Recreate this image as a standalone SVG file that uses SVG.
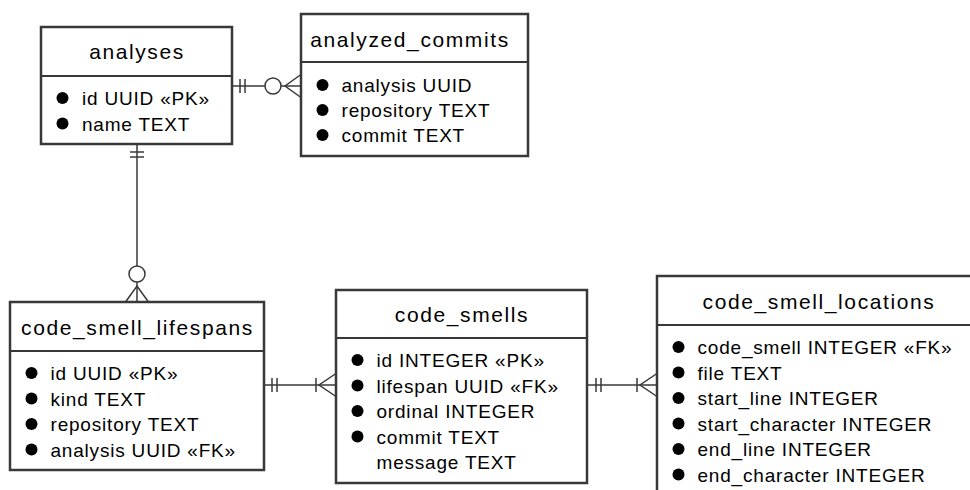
<svg xmlns="http://www.w3.org/2000/svg" width="970" height="490" viewBox="0 0 970 490">
  <style>
    .box { fill: #ffffff; stroke: #383838; stroke-width: 2.5; }
    .div { stroke: #383838; stroke-width: 2.2; }
    .title { font-family: "Liberation Sans", Arial, sans-serif; font-size: 21px; letter-spacing: 1.6px; text-anchor: middle; fill: #000000; }
    .attr { font-family: "Liberation Sans", Arial, sans-serif; font-size: 19px; letter-spacing: 0.8px; fill: #000000; }
    .dot { fill: #000000; }
    .rel { stroke: #383838; stroke-width: 1.5; fill: none; }
    .ring { stroke: #383838; stroke-width: 1.5; fill: #ffffff; }
  </style>

  <!-- relationships -->
  <g id="connectors">
    <!-- analyses: exactly one, analyzed_commits: zero or many -->
    <line class="rel" x1="232" y1="86" x2="301" y2="86"/>
    <line class="rel" x1="240" y1="79" x2="240" y2="93"/>
    <line class="rel" x1="245" y1="79" x2="245" y2="93"/>
    <circle class="ring" cx="273" cy="86" r="8"/>
    <path class="rel" d="M301,74.5 L285,86 L301,97.5"/>

    <!-- analyses: exactly one, code_smell_lifespans: zero or many -->
    <line class="rel" x1="137" y1="144" x2="137" y2="302"/>
    <line class="rel" x1="130" y1="152" x2="144" y2="152"/>
    <line class="rel" x1="130" y1="157" x2="144" y2="157"/>
    <circle class="ring" cx="137" cy="274" r="8"/>
    <path class="rel" d="M125.5,302 L137,286 L148.5,302"/>

    <!-- code_smell_lifespans: exactly one, code_smells: one or many -->
    <line class="rel" x1="264" y1="385" x2="336" y2="385"/>
    <line class="rel" x1="272" y1="378" x2="272" y2="392"/>
    <line class="rel" x1="277" y1="378" x2="277" y2="392"/>
    <line class="rel" x1="316" y1="378" x2="316" y2="392"/>
    <path class="rel" d="M336,373.5 L319,385 L336,396.5"/>

    <!-- code_smells: exactly one, code_smell_locations: one or many -->
    <line class="rel" x1="587" y1="385" x2="657" y2="385"/>
    <line class="rel" x1="596" y1="378" x2="596" y2="392"/>
    <line class="rel" x1="601" y1="378" x2="601" y2="392"/>
    <line class="rel" x1="637" y1="378" x2="637" y2="392"/>
    <path class="rel" d="M657,373.5 L640,385 L657,396.5"/>
  </g>

  <g id="analyses">
    <rect class="box" x="41" y="27" width="191" height="117"/>
    <line class="div" x1="41" y1="76" x2="232" y2="76"/>
    <text class="title" x="137" y="59">analyses</text>
    <circle class="dot" cx="62.5" cy="98" r="6"/>
    <text class="attr" x="82" y="105">id UUID «PK»</text>
    <circle class="dot" cx="62.5" cy="123.5" r="6"/>
    <text class="attr" x="82" y="130.5">name TEXT</text>
  </g>

  <g id="analyzed_commits">
    <rect class="box" x="301" y="14" width="227" height="142"/>
    <line class="div" x1="301" y1="62" x2="528" y2="62"/>
    <text class="title" x="410" y="46.5">analyzed_commits</text>
    <circle class="dot" cx="322.5" cy="85" r="6"/>
    <text class="attr" x="341.5" y="92">analysis UUID</text>
    <circle class="dot" cx="322.5" cy="110" r="6"/>
    <text class="attr" x="341.5" y="117">repository TEXT</text>
    <circle class="dot" cx="322.5" cy="135" r="6"/>
    <text class="attr" x="341.5" y="142">commit TEXT</text>
  </g>

  <g id="code_smell_lifespans">
    <rect class="box" x="10" y="302" width="254" height="168"/>
    <line class="div" x1="10" y1="351" x2="264" y2="351"/>
    <text class="title" x="137.5" y="334.5">code_smell_lifespans</text>
    <circle class="dot" cx="31.5" cy="373" r="6"/>
    <text class="attr" x="50.5" y="380">id UUID «PK»</text>
    <circle class="dot" cx="31.5" cy="398.5" r="6"/>
    <text class="attr" x="50.5" y="405.5">kind TEXT</text>
    <circle class="dot" cx="31.5" cy="424" r="6"/>
    <text class="attr" x="50.5" y="431">repository TEXT</text>
    <circle class="dot" cx="31.5" cy="449.5" r="6"/>
    <text class="attr" x="50.5" y="456.5">analysis UUID «FK»</text>
  </g>

  <g id="code_smells">
    <rect class="box" x="336" y="290" width="251" height="193"/>
    <line class="div" x1="336" y1="338" x2="587" y2="338"/>
    <text class="title" x="462" y="322">code_smells</text>
    <circle class="dot" cx="357.5" cy="360" r="6"/>
    <text class="attr" x="376.5" y="367">id INTEGER «PK»</text>
    <circle class="dot" cx="357.5" cy="385.5" r="6"/>
    <text class="attr" x="376.5" y="392.5">lifespan UUID «FK»</text>
    <circle class="dot" cx="357.5" cy="411" r="6"/>
    <text class="attr" x="376.5" y="418">ordinal INTEGER</text>
    <circle class="dot" cx="357.5" cy="436.5" r="6"/>
    <text class="attr" x="376.5" y="443.5">commit TEXT</text>
    <text class="attr" x="376.5" y="469">message TEXT</text>
  </g>

  <g id="code_smell_locations">
    <rect class="box" x="657" y="276" width="319" height="220"/>
    <line class="div" x1="657" y1="325" x2="976" y2="325"/>
    <text class="title" x="819" y="308.5">code_smell_locations</text>
    <circle class="dot" cx="678.5" cy="347" r="6"/>
    <text class="attr" x="697.5" y="354">code_smell INTEGER «FK»</text>
    <circle class="dot" cx="678.5" cy="372.5" r="6"/>
    <text class="attr" x="697.5" y="379.5">file TEXT</text>
    <circle class="dot" cx="678.5" cy="398" r="6"/>
    <text class="attr" x="697.5" y="405">start_line INTEGER</text>
    <circle class="dot" cx="678.5" cy="423.5" r="6"/>
    <text class="attr" x="697.5" y="430.5">start_character INTEGER</text>
    <circle class="dot" cx="678.5" cy="449" r="6"/>
    <text class="attr" x="697.5" y="456">end_line INTEGER</text>
    <circle class="dot" cx="678.5" cy="474.5" r="6"/>
    <text class="attr" x="697.5" y="481.5">end_character INTEGER</text>
  </g>
</svg>
